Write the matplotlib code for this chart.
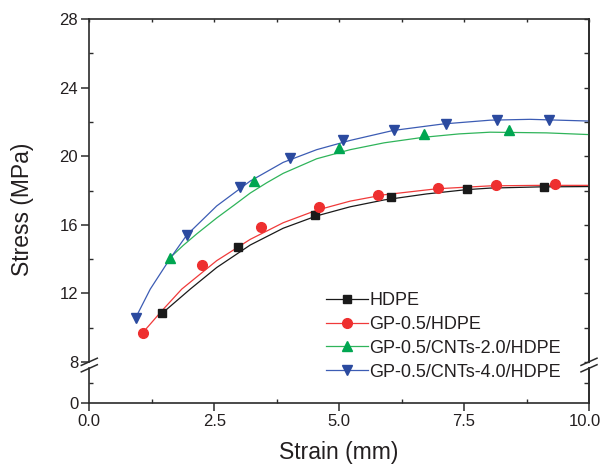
import numpy as np
import matplotlib
matplotlib.use("Agg")
import matplotlib.pyplot as plt
from matplotlib.lines import Line2D
from matplotlib.transforms import ScaledTranslation

plt.rcParams["font.family"] = ["Liberation Sans", "DejaVu Sans"]

# ---- data ----
labels = ["HDPE", "GP-0.5/HDPE", "GP-0.5/CNTs-2.0/HDPE", "GP-0.5/CNTs-4.0/HDPE"]

# marker points (strain mm, stress MPa)
hdpe_mx = [1.45, 2.97, 4.51, 6.03, 7.56, 9.10]
hdpe_my = [10.85, 14.73, 16.60, 17.61, 18.10, 18.23]
gp_mx = [1.07, 2.25, 3.43, 4.60, 5.78, 6.97, 8.14, 9.32]
gp_my = [9.71, 13.67, 15.85, 17.06, 17.75, 18.13, 18.31, 18.35]
cnt2_mx = [1.62, 3.30, 5.00, 6.69, 8.40]
cnt2_my = [14.04, 18.54, 20.47, 21.32, 21.51]
cnt4_mx = [0.94, 1.96, 3.01, 4.02, 5.07, 6.09, 7.13, 8.15, 9.20]
cnt4_my = [10.59, 15.43, 18.23, 19.89, 20.96, 21.55, 21.90, 22.09, 22.09]

# fitted curves
hdpe_lx = [1.45, 2.02, 2.55, 3.22, 3.88, 4.55, 5.22, 5.90, 6.75, 7.55, 8.02, 9.0, 10.0]
hdpe_ly = [10.82, 12.25, 13.51, 14.82, 15.80, 16.52, 17.05, 17.45, 17.80, 18.05, 18.14, 18.21, 18.23]
gp_lx = [1.07, 1.45, 1.85, 2.55, 3.22, 3.88, 4.55, 5.22, 5.90, 6.95, 8.02, 9.0, 10.0]
gp_ly = [9.71, 10.98, 12.25, 13.91, 15.15, 16.12, 16.85, 17.38, 17.75, 18.10, 18.27, 18.30, 18.30]
cnt2_lx = [1.61, 1.88, 2.15, 2.55, 2.90, 3.22, 3.55, 3.88, 4.55, 5.22, 5.90, 6.68, 7.40, 8.02, 9.15, 10.0]
cnt2_ly = [14.06, 14.80, 15.47, 16.40, 17.15, 17.85, 18.45, 19.00, 19.85, 20.38, 20.78, 21.10, 21.30, 21.40, 21.36, 21.26]
cnt4_lx = [0.93, 1.22, 1.61, 1.95, 2.55, 3.22, 3.88, 4.55, 5.22, 6.08, 7.08, 8.02, 8.82, 10.0]
cnt4_ly = [10.59, 12.25, 14.00, 15.40, 17.10, 18.55, 19.64, 20.38, 20.92, 21.50, 21.88, 22.10, 22.15, 22.05]

xticks = [0.0, 2.5, 5.0, 7.5, 10.0]
xticklabels = ["0.0", "2.5", "5.0", "7.5", "10.0"]
yticks_top = [8, 12, 16, 20, 24, 28]

series = [
    (hdpe_lx, hdpe_ly, hdpe_mx, hdpe_my, "#1a1a1a", "#1a1a1a", "s", 6),
    (gp_lx, gp_ly, gp_mx, gp_my, "#f03a3a", "#ee2f2f", "o", 7),
    (cnt2_lx, cnt2_ly, cnt2_mx, cnt2_my, "#2fb45a", "#00a651", "^", 7.5),
    (cnt4_lx, cnt4_ly, cnt4_mx, cnt4_my, "#3c5cb4", "#2b4a9f", "v", 7.5),
]

W, H = 601, 466
fig = plt.figure(figsize=(W / 100, H / 100), dpi=100)

x0, x1 = 89.3, 589.0
top_y0, top_y1 = 19, 362
bot_y0, bot_y1 = 368, 403

ax = fig.add_axes([x0 / W, 1 - top_y1 / H, (x1 - x0) / W, (top_y1 - top_y0) / H])
axb = fig.add_axes([x0 / W, 1 - bot_y1 / H, (x1 - x0) / W, (bot_y1 - bot_y0) / H])

spine_c = "#2b2b2b"
text_c = "#231f20"

for lx, ly, mx, my, lc, mc, mk, ms in series:
    ax.plot(lx, ly, color=lc, lw=0.9, zorder=2)
    ax.plot(mx, my, ls="none", marker=mk, ms=ms, color=mc, mec=mc, zorder=3)

# top panel
ax.set_xlim(0, 10)
ax.set_ylim(8, 28)
ax.set_yticks(yticks_top)
ax.set_yticks(np.arange(10, 28, 4), minor=True)
ax.set_xticks(xticks)
ax.set_xticks(np.arange(1.25, 10, 2.5), minor=True)
ax.spines["bottom"].set_visible(False)
ax.tick_params(axis="x", which="both", bottom=False, labelbottom=False,
               top=True, direction="in", length=2, width=1, color=spine_c)
ax.tick_params(axis="y", which="major", direction="out", length=6, width=1.1,
               right=False, labelsize=12, labelcolor=text_c, color=spine_c, pad=2)
ax.tick_params(axis="y", which="minor", direction="in", length=3, width=1,
               right=False, color=spine_c)
sec = ax.secondary_yaxis("right")
sec.set_yticks(np.arange(8, 29, 2))
sec.tick_params(direction="in", length=3.5, width=1, labelright=False, color=spine_c)
sec.spines["right"].set_color(spine_c)
sec.spines["right"].set_linewidth(1.2)

# bottom panel
axb.set_xlim(0, 10)
axb.set_ylim(0, 7)
axb.set_yticks([0])
axb.set_yticks([4], minor=True)
axb.set_xticks(xticks)
axb.set_xticklabels(xticklabels)
axb.set_xticks(np.arange(1.25, 10, 2.5), minor=True)
axb.spines["top"].set_visible(False)
axb.tick_params(axis="x", which="major", direction="out", length=6, width=1.1,
                labelsize=12, labelcolor=text_c, color=spine_c, pad=2)
axb.tick_params(axis="x", which="minor", direction="in", length=3, width=1, color=spine_c)
axb.tick_params(axis="y", which="major", direction="out", length=6, width=1.1,
                labelsize=12, labelcolor=text_c, color=spine_c, pad=2)
axb.tick_params(axis="y", which="minor", direction="in", length=3, width=1, color=spine_c)
secb = axb.secondary_yaxis("right")
secb.set_yticks([4])
secb.tick_params(direction="in", length=3.5, width=1, labelright=False, color=spine_c)
secb.spines["right"].set_color(spine_c)
secb.spines["right"].set_linewidth(1.2)

# keep "10.0" inside the canvas
last = axb.get_xticklabels()[-1]
last.set_transform(last.get_transform() + ScaledTranslation(-4 / 100, 0, fig.dpi_scale_trans))

for a in (ax, axb):
    for s in a.spines.values():
        s.set_color(spine_c)
        s.set_linewidth(1.2)

# axis break marks
for xs in (x0, x1):
    for yc in (361.8, 368.3):
        fig.add_artist(Line2D([(xs - 8) / W, (xs + 8) / W],
                              [1 - (yc + 3.6) / H, 1 - (yc - 3.6) / H],
                              transform=fig.transFigure, color=spine_c, lw=1.1))

fig.text(22 / W, 1 - 209 / H, "Stress (MPa)", rotation=90, ha="center", va="center",
         fontsize=16.5, color=text_c)
fig.text(339 / W, 1 - 452 / H, "Strain (mm)", ha="center", va="center",
         fontsize=16.5, color=text_c)

handles = [Line2D([], [], color=lc, lw=0.9, marker=mk, ms=ms, mfc=mc, mec=mc)
           for _, _, _, _, lc, mc, mk, ms in series]
fig.legend(handles, labels, loc="upper left", bbox_to_anchor=(326 / W, 1 - 292 / H),
           frameon=False, fontsize=13, handlelength=2.3, handletextpad=0.1,
           labelspacing=0.38, borderpad=0, borderaxespad=0, labelcolor=text_c)

fig.savefig("out.png", dpi=100)
